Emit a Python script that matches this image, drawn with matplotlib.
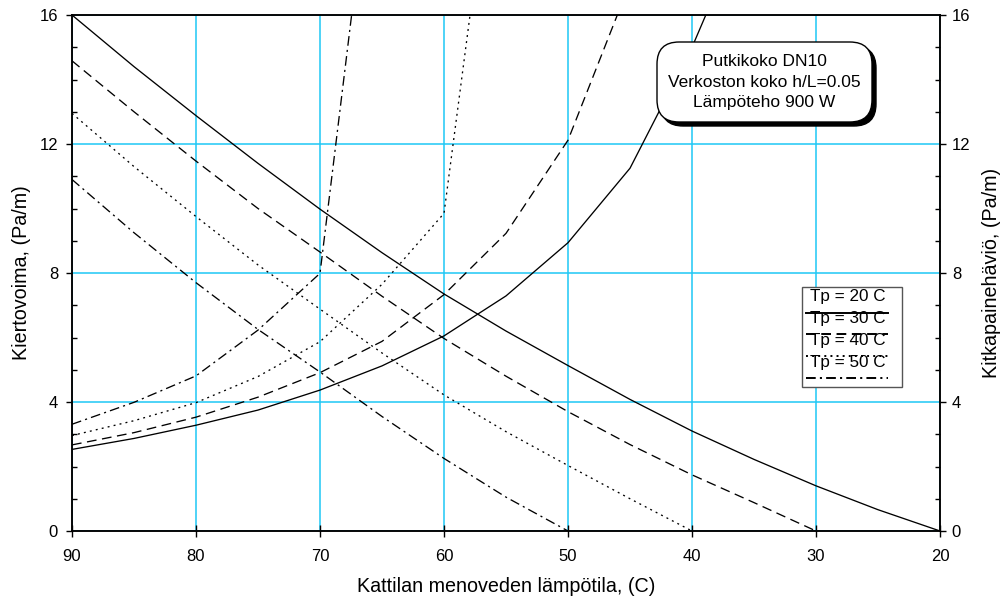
import matplotlib
matplotlib.use("Agg")
import matplotlib.pyplot as plt
from matplotlib.patches import FancyBboxPatch, Rectangle
from matplotlib.lines import Line2D
from matplotlib.ticker import MultipleLocator

plt.rcParams['font.family'] = ['Liberation Sans', 'DejaVu Sans']
plt.rcParams['lines.scale_dashes'] = False

# --- data ---
temps = [90, 85, 80, 75, 70, 65, 60, 55, 50, 45, 40, 35, 30, 25, 20]
series_labels = ["Tp = 20 C", "Tp = 30 C", "Tp = 40 C", "Tp = 50 C"]

# Kiertovoima (left axis), decreasing curves
kv_20 = [16.0, 14.4, 12.88, 11.4, 9.98, 8.63, 7.35, 6.2, 5.13, 4.08, 3.10, 2.22, 1.40, 0.66, 0.0]
kv_30 = [14.58, 13.0, 11.47, 10.0, 8.65, 7.28, 5.97, 4.8, 3.70, 2.68, 1.74, 0.88, 0.0]
kv_40 = [12.95, 11.3, 9.75, 8.25, 6.88, 5.52, 4.22, 3.08, 2.03, 1.0, 0.0]
kv_50 = [10.9, 9.25, 7.7, 6.25, 4.93, 3.55, 2.25, 1.05, 0.0]

# Kitkapainehäviö (right axis), increasing curves
kp_20 = [2.53, 2.87, 3.28, 3.75, 4.37, 5.12, 6.05, 7.29, 8.94, 11.25, 15.0, 19.5]
kp_30 = [2.67, 3.05, 3.53, 4.15, 4.91, 5.88, 7.33, 9.23, 12.12, 17.0]
kp_40 = [2.96, 3.42, 3.98, 4.79, 5.87, 7.65, 9.85, 24.5]
kp_50 = [3.31, 3.99, 4.81, 6.23, 7.99, 23.7]

kv_series = [kv_20, kv_30, kv_40, kv_50]
kp_series = [kp_20, kp_30, kp_40, kp_50]

xlabel = "Kattilan menoveden lämpötila, (C)"
ylabel_left = "Kiertovoima, (Pa/m)"
ylabel_right = "Kitkapainehäviö, (Pa/m)"
note_lines = ["Putkikoko DN10", "Verkoston koko h/L=0.05", "Lämpöteho 900 W"]

styles = ['-', (0, (7, 4)), (0, (1.4, 3.0)), (0, (7, 3, 1.5, 3))]
grid_color = '#1ec8f5'
lw = 0.95

fig = plt.figure(figsize=(10.04, 6.03), dpi=100)
ax = fig.add_axes([0.0717, 0.1194, 0.8646, 0.8557])
ax2 = ax.twinx()

for ys, ls in zip(kv_series, styles):
    ax.plot(temps[:len(ys)], ys, color='black', lw=lw, linestyle=ls, clip_on=True)
for ys, ls in zip(kp_series, styles):
    ax2.plot(temps[:len(ys)], ys, color='black', lw=lw, linestyle=ls, clip_on=True)

for a in (ax, ax2):
    a.set_xlim(90, 20)
    a.set_ylim(0, 16)
    a.yaxis.set_major_locator(MultipleLocator(4))
    a.yaxis.set_minor_locator(MultipleLocator(1))
    a.tick_params(axis='y', which='minor', direction='in', length=3.5, width=1)
    for s in a.spines.values():
        s.set_linewidth(1.1)
ax.tick_params(axis='y', which='major', direction='out', length=4, width=1, labelsize=12, pad=6)
ax2.tick_params(axis='y', which='major', direction='out', length=4, width=1, labelsize=12, pad=4.5)
ax.set_xticks([90, 80, 70, 60, 50, 40, 30, 20])
ax.tick_params(axis='x', which='major', direction='inout', length=8, width=1, labelsize=12, pad=9)
ax.grid(True, which='major', color=grid_color, lw=1.1)
ax.set_axisbelow(True)

ax.set_xlabel(xlabel, fontsize=14.2, labelpad=9)
ax.set_ylabel(ylabel_left, fontsize=14.2, labelpad=6)
ax2.set_ylabel(ylabel_right, fontsize=14.2, labelpad=8)

# annotation box with shadow
W, H = 1004, 603
def fx(px):
    return px / W
def fy(py):
    return 1 - py / H

bx0, by0, bx1, by1 = 657, 42, 872, 122
shadow = FancyBboxPatch((fx(bx0 + 4), fy(by1 + 4)), fx(bx1 - bx0), (by1 - by0) / H,
                        boxstyle="round,pad=0,rounding_size=0.022", transform=fig.transFigure,
                        facecolor='black', edgecolor='black', zorder=5, mutation_aspect=W / H)
box = FancyBboxPatch((fx(bx0), fy(by1)), fx(bx1 - bx0), (by1 - by0) / H,
                     boxstyle="round,pad=0,rounding_size=0.022", transform=fig.transFigure,
                     facecolor='white', edgecolor='black', lw=1, zorder=6, mutation_aspect=W / H)
fig.patches.extend([shadow, box])
for i, t in enumerate(note_lines):
    fig.text(fx((bx0 + bx1) / 2), fy(62 + i * 20.5), t, ha='center', va='center',
             fontsize=12.5, zorder=7)

# legend box
lx0, ly0, lx1, ly1 = 802, 287, 902, 387
fig.patches.append(Rectangle((fx(lx0), fy(ly1)), fx(lx1 - lx0), (ly1 - ly0) / H,
                             transform=fig.transFigure, facecolor='white',
                             edgecolor='#555555', lw=1, zorder=5))
for i, (lab, ls) in enumerate(zip(series_labels, styles)):
    ty = 297 + i * 21.8
    fig.text(fx(848), fy(ty), lab, ha='center', va='center', fontsize=12.3, zorder=7)
    yline = ty + 15.5
    fig.add_artist(Line2D([fx(806), fx(888)], [fy(yline), fy(yline)], color='black',
                          lw=1.4, linestyle=ls, transform=fig.transFigure, zorder=7))

fig.savefig("out.png", dpi=100)
